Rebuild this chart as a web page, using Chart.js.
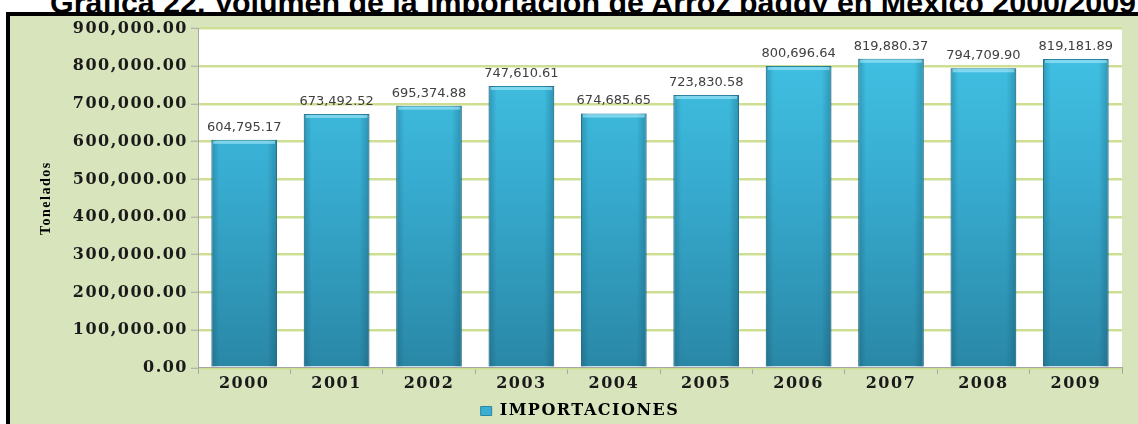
<!DOCTYPE html>
<html>
<head>
<meta charset="utf-8">
<script src="https://cdn.jsdelivr.net/npm/chart.js@4"></script>
<style>
  html, body { margin: 0; padding: 0; background: #fff; overflow: hidden; }
  body { width: 1138px; height: 424px; position: relative; }
  #title {
    position: absolute; left: 50px; top: -15px; z-index: 1;
    font: bold 30.4px "Liberation Sans", Arial, sans-serif;
    white-space: nowrap; color: #000;
  }
  #frame {
    position: absolute; left: 6px; top: 12px; z-index: 2;
    width: 1140px; height: 420px;
    border: 4px solid #000; background: #d8e4bc;
  }
  #wrap { position: absolute; left: 10px; top: 16px; width: 1128px; height: 413px; z-index: 3; }
</style>
</head>
<body>
<div id="title">Gráfica 22. Volumen de la importación de Arroz paddy en México 2000/2009</div>
<div id="frame"></div>
<div id="wrap"><canvas id="chart"></canvas></div>

<script>
const years = ['2000', '2001', '2002', '2003', '2004', '2005', '2006', '2007', '2008', '2009'];
const importaciones = [604795.17, 673492.52, 695374.88, 747610.61, 674685.65, 723830.58, 800696.64, 819880.37, 794709.90, 819181.89];
const yTickLabels = ['0.00', '100,000.00', '200,000.00', '300,000.00', '400,000.00', '500,000.00', '600,000.00', '700,000.00', '800,000.00', '900,000.00'];

const fmt = v => v.toLocaleString('en-US', { minimumFractionDigits: 2, maximumFractionDigits: 2 });

// letra ancha como en el original (el lienzo pierde el estado al redimensionar)
const wideText = {
  id: 'wideText',
  beforeUpdate(chart) { chart.ctx.letterSpacing = '1.5px'; },
  beforeDraw(chart) { chart.ctx.letterSpacing = '1.5px'; }
};

// fondo blanco del area de trazado
const plotBg = {
  id: 'plotBg',
  beforeDraw(chart) {
    const { ctx, chartArea: a } = chart;
    ctx.save();
    ctx.fillStyle = '#ffffff';
    ctx.fillRect(a.left, a.top, a.right - a.left, a.bottom - a.top);
    ctx.restore();
  }
};

// sombreado lateral de las barras + etiquetas de valor
const valueLabels = {
  id: 'valueLabels',
  afterDatasetsDraw(chart) {
    const { ctx } = chart;
    const meta = chart.getDatasetMeta(0);
    ctx.save();
    meta.data.forEach(bar => {
      const l = bar.x - bar.width / 2;
      const g = ctx.createLinearGradient(l, 0, l + bar.width, 0);
      g.addColorStop(0, 'rgba(10,60,80,0.28)');
      g.addColorStop(0.12, 'rgba(10,60,80,0)');
      g.addColorStop(0.85, 'rgba(10,60,80,0)');
      g.addColorStop(1, 'rgba(10,60,80,0.3)');
      ctx.fillStyle = g;
      ctx.fillRect(l, bar.y, bar.width, bar.base - bar.y);
      ctx.fillStyle = 'rgba(170,235,250,0.6)';
      ctx.fillRect(l + 2, bar.y + 1, bar.width - 4, 3);
    });
    ctx.letterSpacing = '0px';
    ctx.font = '13px "DejaVu Sans"';
    ctx.fillStyle = '#404040';
    ctx.textAlign = 'center';
    ctx.textBaseline = 'bottom';
    meta.data.forEach((bar, i) => {
      ctx.fillText(fmt(importaciones[i]), bar.x, bar.y - 6);
    });
    ctx.restore();
  }
};

function barFill(context) {
  const { chart } = context;
  const a = chart.chartArea;
  if (!a) return '#36a9cc';
  const g = chart.ctx.createLinearGradient(0, a.top, 0, a.bottom);
  g.addColorStop(0, '#42c4e6');
  g.addColorStop(0.45, '#37acd0');
  g.addColorStop(1, '#2a87a6');
  return g;
}

new Chart(document.getElementById('chart'), {
  type: 'bar',
  data: {
    labels: years,
    datasets: [{
      label: 'IMPORTACIONES',
      data: importaciones,
      backgroundColor: barFill,
      borderColor: '#2b86a3',
      borderWidth: 1,
      categoryPercentage: 0.71,
      barPercentage: 1
    }]
  },
  options: {
    responsive: true,
    maintainAspectRatio: false,
    animation: false,
    layout: { padding: { left: 28, right: 16, top: 10, bottom: 0 } },
    plugins: {
      tooltip: { enabled: false },
      legend: {
        position: 'bottom',
        labels: {
          boxWidth: 11,
          boxHeight: 9,
          padding: 10,
          color: '#000',
          font: { family: '"DejaVu Serif"', size: 16, weight: 'bold' },
          generateLabels(chart) {
            return Chart.defaults.plugins.legend.labels.generateLabels(chart).map(l => {
              l.fillStyle = '#3aaed2';
              l.strokeStyle = '#2b86a3';
              l.lineWidth = 1;
              return l;
            });
          }
        }
      }
    },
    scales: {
      x: {
        grid: { offset: true, drawOnChartArea: false, tickLength: 6, tickColor: '#a6a6a6' },
        border: { color: '#a6a6a6' },
        ticks: { color: '#1a1a1a', padding: 0, font: { family: '"DejaVu Serif"', size: 16, weight: 'bold' } }
      },
      y: {
        min: 0,
        max: 900000,
        grid: { color: '#cddf93', lineWidth: 2.5, tickLength: 7, tickColor: '#a6a6a6', tickWidth: 1 },
        border: { color: '#a6a6a6' },
        ticks: {
          stepSize: 100000,
          padding: 3,
          color: '#1a1a1a',
          font: { family: '"DejaVu Serif"', size: 16, weight: 'bold' },
          callback: (v, i) => yTickLabels[i]
        },
        title: {
          display: true,
          text: 'Tonelados',
          color: '#000',
          padding: { top: 0, bottom: 15 },
          font: { family: '"Liberation Serif"', size: 14, weight: 'bold' }
        }
      }
    }
  },
  plugins: [wideText, plotBg, valueLabels]
});
</script>
</body>
</html>
